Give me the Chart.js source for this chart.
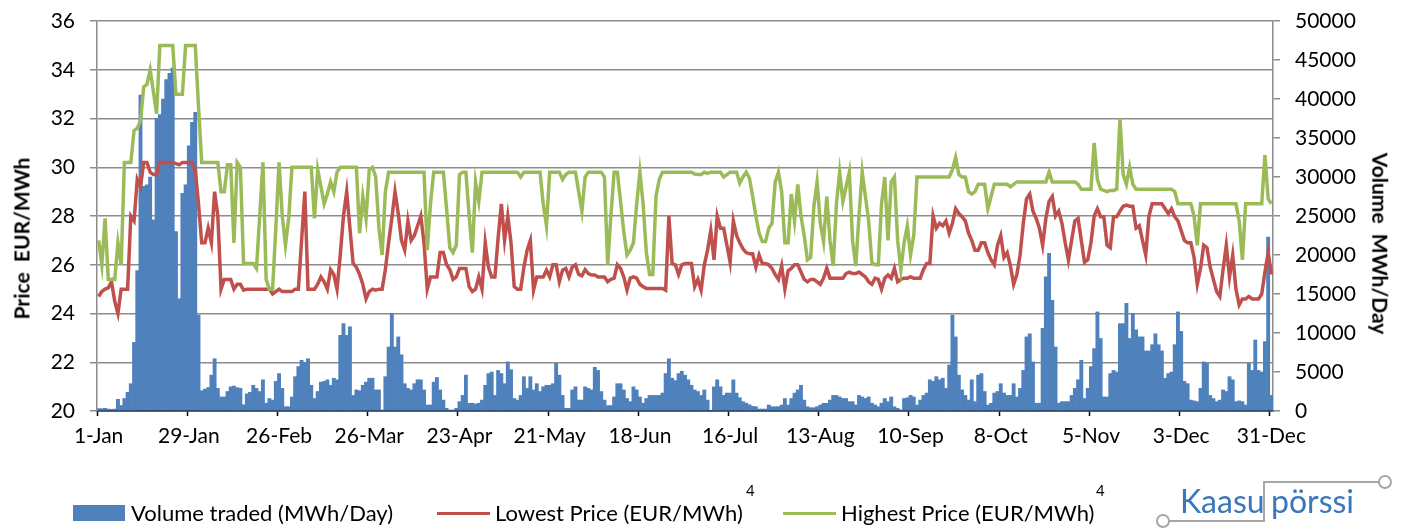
<!DOCTYPE html>
<html>
<head>
<meta charset="utf-8">
<title>Kaasupörssi volume and prices</title>
<script src="https://cdn.jsdelivr.net/npm/chart.js@4.4.1/dist/chart.umd.min.js"></script>
<style>
  html, body { margin: 0; padding: 0; background: #fff; }
  #wrap { position: relative; width: 1402px; height: 528px; overflow: hidden; font-family: Lato, 'Open Sans', sans-serif; color: #000; }
  #chart { position: absolute; left: 0; top: 0; }
  .axis-title { position: absolute; font-weight: bold; font-size: 21px; line-height: 1; white-space: nowrap; }
  .leg { position: absolute; font-size: 22px; line-height: 1; white-space: nowrap; }
  .sup { position: absolute; font-size: 15px; line-height: 1; }
  .swatch { position: absolute; }
  .logo-txt { position: absolute; font-size: 32px; line-height: 1; color: #3a77bb; white-space: nowrap; }
  .logo-line { position: absolute; background: #a6a6a6; }
  .logo-dot { position: absolute; width: 10px; height: 10px; border: 2px solid #a6a6a6; border-radius: 50%; background: #fff; }
</style>
</head>
<body>
<div id="wrap">
  <canvas id="chart" width="1402" height="528"></canvas>

  <div class="axis-title" id="titleLeft">Price&nbsp; EUR/MWh</div>
  <div class="axis-title" id="titleRight">Volume&nbsp; MWh/Day</div>

  <div class="swatch" style="left:73px; top:505px; width:52px; height:16px; background:#4f81bd;"></div>
  <div class="leg" style="left:131px; top:502px;">Volume traded (MWh/Day)</div>

  <div class="swatch" style="left:437px; top:512px; width:53px; height:3px; background:#c0504d;"></div>
  <div class="leg" style="left:495px; top:502px;">Lowest Price (EUR/MWh)</div>
  <div class="sup" style="left:746px; top:483px;">4</div>

  <div class="swatch" style="left:783px; top:512px; width:53px; height:3px; background:#9bbb59;"></div>
  <div class="leg" style="left:841px; top:502px;">Highest Price (EUR/MWh)</div>
  <div class="sup" style="left:1096px; top:483px;">4</div>

  <div class="logo-txt" style="left:1180px; top:485px;">Kaasu</div>
  <div class="logo-txt" style="left:1271px; top:485px;">pörssi</div>
  <div class="logo-line" style="left:1168px; top:520px; width:97px; height:2px;"></div>
  <div class="logo-line" style="left:1263px; top:481px; width:2px; height:41px;"></div>
  <div class="logo-line" style="left:1263px; top:481px; width:116px; height:2px;"></div>
  <div class="logo-dot" style="left:1156px; top:514px;"></div>
  <div class="logo-dot" style="left:1378px; top:475px;"></div>
</div>

<script>
// day by day values
var monthNames = ['Jan', 'Feb', 'Mar', 'Apr', 'May', 'Jun', 'Jul', 'Aug', 'Sep', 'Oct', 'Nov', 'Dec'];
var monthDays = [31, 28, 31, 30, 31, 30, 31, 31, 30, 31, 30, 31];
var tickLabels = ['1-Jan', '29-Jan', '26-Feb', '26-Mar', '23-Apr', '21-May', '18-Jun',
  '16-Jul', '13-Aug', '10-Sep', '8-Oct', '5-Nov', '3-Dec', '31-Dec'];

var volumeTraded = [
  300, 300, 350, 250, 200, 250, 1500, 700, 1600, 2400,
  3500, 8800, 18000, 40500, 28800, 29000, 30000, 24500, 37500, 38000,
  40000, 42500, 43300, 44000, 23000, 14400, 27900, 29000, 34000, 37000,
  38300, 12300, 2600, 2800, 3000, 4600, 6700, 2900, 1800, 1800,
  2500, 3100, 3200, 3000, 2900, 800, 2200, 2400, 3300, 2900,
  2500, 4000, 1000, 1600, 1400, 3800, 4800, 2900, 550, 550,
  1800, 4400, 5700, 6500, 6200, 6700, 3300, 1600, 2500, 3700,
  3800, 4000, 3300, 4200, 4000, 9700, 11200, 9700, 10800, 2000,
  2700, 2600, 3300, 3700, 4200, 4200, 2700, 2700, 130, 4400,
  8200, 12500, 8200, 9500, 7200, 3500, 2900, 2700, 3500, 4000,
  4000, 2700, 770, 770, 3700, 4300, 2700, 1400, 340, 130,
  130, 340, 1200, 2000, 4600, 980, 1000, 900, 1000, 1400,
  3300, 4800, 5000, 2000, 5200, 4800, 3500, 6300, 5300, 1600,
  1400, 2000, 4400, 2900, 4400, 2700, 3500, 2500, 3100, 3300,
  3300, 3500, 6100, 4600, 2000, 350, 350, 2700, 3100, 1400,
  1400, 3100, 2900, 2700, 5600, 5200, 2500, 1400, 700, 700,
  1800, 3500, 3500, 2700, 1600, 1200, 3100, 2700, 1800, 1000,
  1600, 2000, 2000, 2000, 2000, 2300, 4800, 6700, 4200, 3900,
  4800, 5100, 4600, 4000, 3300, 2700, 2500, 2000, 2700, 1400,
  100, 3100, 4000, 3100, 2000, 2300, 2300, 4000, 2300, 1700,
  1200, 1000, 800, 600, 550, 250, 250, 250, 770, 550,
  550, 550, 770, 1600, 770, 1600, 2300, 2700, 3300, 1400,
  550, 420, 420, 550, 770, 980, 980, 1400, 2000, 2000,
  1800, 1600, 1600, 1200, 1200, 770, 2000, 1800, 1600, 1800,
  1000, 770, 550, 1000, 1600, 1200, 1800, 550, 350, 150,
  1600, 1700, 2000, 1800, 770, 1400, 2000, 2300, 4000, 3800,
  4400, 4000, 4200, 2900, 5900, 12300, 9500, 4600, 2700, 2000,
  1400, 4000, 1200, 4600, 4800, 2500, 770, 980, 2300, 2500,
  3500, 2300, 2000, 2000, 3500, 1800, 2900, 5200, 9500, 9900,
  6300, 1000, 1000, 10600, 17200, 20200, 14200, 8200, 1000, 1200,
  1200, 1200, 2000, 2900, 4000, 6500, 1600, 2900, 5700, 8000,
  12700, 9300, 1800, 1800, 4800, 5200, 5000, 11200, 11200, 13800,
  9300, 12500, 10400, 9500, 9500, 7700, 7700, 8500, 9900, 8500,
  7700, 4200, 4800, 5000, 8500, 12700, 10200, 3800, 3500, 1400,
  1300, 1200, 2900, 6300, 6100, 2000, 1600, 1200, 1400, 2700,
  2500, 4400, 4000, 1200, 1300, 1200, 770, 6100, 5200, 9100,
  5200, 5000, 8900, 22300, 2000
];

var lowestPrice = [
  24.7, 24.9, 25.0, 25.05, 25.3, 24.5, 24.0, 25.0, 25.0, 25.0,
  28.0, 27.8, 29.5, 29.2, 30.2, 30.2, 29.8, 29.7, 29.7, 30.2,
  30.2, 30.2, 30.2, 30.2, 30.15, 30.1, 30.2, 30.2, 30.2, 30.2,
  29.9, 28.5, 26.9, 26.9, 27.5, 26.9, 29.0, 28.0, 25.0, 25.4,
  25.4, 25.4, 25.0, 25.2, 25.2, 24.96, 25.0, 25.0, 25.0, 25.0,
  25.0, 25.0, 25.0, 25.0, 24.8, 24.9, 25.0, 24.9, 24.9, 24.9,
  24.9, 25.0, 25.0, 27.0, 29.0, 25.0, 25.0, 25.0, 25.2, 25.5,
  25.3, 25.0, 25.8, 25.6, 25.0, 26.4, 28.0, 29.0, 27.5, 26.05,
  25.9, 25.6, 25.2, 24.6, 24.9, 25.0, 24.96, 25.0, 25.0, 25.8,
  26.9, 27.9, 29.0, 28.1, 27.0, 26.6, 27.8, 27.0, 27.2, 27.6,
  28.0, 26.9, 25.0, 25.5, 25.5, 25.5, 26.5, 26.5, 26.0, 25.8,
  25.4, 25.5, 25.85, 25.85, 25.85, 25.1, 24.9, 25.0, 25.5, 25.0,
  26.9, 25.9, 25.5, 25.5, 27.1, 28.5, 27.0, 28.0, 26.9, 25.1,
  25.0, 25.0, 25.9, 26.6, 27.0, 24.96, 25.5, 25.5, 25.5, 25.78,
  25.5, 26.0, 26.0, 25.3, 25.78, 25.85, 25.5, 25.9, 26.0, 25.6,
  25.55, 25.8, 25.64, 25.58, 25.58, 25.5, 25.5, 25.5, 25.3, 25.4,
  25.45, 26.0, 25.85, 25.5, 24.96, 25.45, 25.5, 25.45, 25.2, 25.1,
  25.03, 25.03, 25.03, 25.03, 25.03, 25.03, 24.96, 28.0, 26.05, 26.0,
  25.6, 26.0, 26.05, 26.05, 26.05, 25.1, 25.4, 24.96, 26.0, 26.6,
  27.4, 26.2, 28.0, 27.5, 27.5, 26.8, 26.1, 27.8, 27.2, 26.9,
  26.65, 26.5, 26.45, 26.45, 25.9, 26.4, 26.05, 26.05, 26.0, 25.85,
  25.6, 25.4, 25.95, 25.0, 25.75, 25.85, 26.0, 26.0, 25.7, 25.4,
  25.3, 25.4, 25.4, 25.3, 25.2, 25.45, 25.85, 25.45, 25.45, 25.45,
  25.45, 25.45, 25.64, 25.7, 25.64, 25.64, 25.7, 25.6, 25.5, 25.3,
  25.2, 25.45, 25.4, 25.0, 25.45, 25.58, 25.45, 25.85, 25.3, 25.4,
  25.45, 25.45, 25.5, 25.45, 25.45, 25.45, 25.8, 26.05, 26.05, 28.0,
  27.5, 27.7, 27.6, 27.8, 27.3, 27.7, 28.3, 28.1, 27.97, 27.8,
  27.3, 27.0, 26.6, 26.6, 26.9, 26.9, 26.5, 26.2, 26.0, 26.8,
  27.2, 26.3, 26.5, 25.95, 25.2, 25.6, 26.4, 27.7, 28.7, 28.9,
  28.2, 27.9, 27.5, 26.8, 27.9, 28.6, 28.8, 28.0, 28.2, 27.7,
  26.9, 26.2, 27.0, 27.8, 27.9, 27.0, 26.1, 26.2, 26.9, 28.0,
  28.3, 27.97, 27.97, 26.8, 26.7, 27.97, 27.97, 28.2, 28.4, 28.45,
  28.4, 28.4, 27.5, 27.6, 27.0, 26.4, 28.0, 28.5, 28.5, 28.5,
  28.5, 28.3, 28.1, 28.3, 27.97, 27.8, 27.4, 27.0, 26.9, 26.9,
  26.3, 25.2, 25.85, 26.8, 26.7, 25.9, 25.4, 24.9, 24.7, 25.8,
  26.8, 25.5, 26.4, 25.0, 24.35, 24.6, 24.6, 24.7, 24.6, 24.6,
  24.6, 24.8, 25.7, 26.5, 25.6
];

var highestPrice = [
  27.0, 26.0, 27.9, 25.4, 25.4, 25.4, 26.9, 26.0, 30.2, 30.2,
  30.2, 31.5, 31.6, 31.9, 33.3, 33.4, 34.0, 33.1, 32.2, 35.0,
  35.0, 35.0, 35.0, 35.0, 33.0, 33.0, 33.0, 35.0, 35.0, 35.0,
  35.0, 32.5, 30.2, 30.2, 30.2, 30.2, 30.2, 30.2, 29.0, 29.0,
  30.1, 30.1, 26.9, 30.2, 30.0, 26.05, 26.05, 26.05, 26.05, 25.85,
  28.0, 30.2, 25.4, 25.0, 25.0, 27.5, 30.2, 28.0, 26.8, 27.9,
  30.0, 30.0, 30.0, 30.0, 30.0, 30.0, 30.0, 27.9, 29.9, 29.2,
  28.5, 28.9, 29.4, 29.0, 29.8, 30.0, 30.0, 30.0, 30.0, 30.0,
  30.0, 27.3, 28.8, 27.9, 29.9, 30.0, 29.6, 27.5, 26.4, 29.0,
  29.8, 29.8, 29.8, 29.8, 29.8, 29.8, 29.8, 29.8, 29.8, 29.8,
  29.8, 29.8, 26.6, 28.5, 29.8, 29.8, 29.8, 29.8, 28.3, 26.7,
  26.5, 26.8, 29.7, 29.8, 29.8, 28.0, 26.5, 29.4, 28.6, 29.8,
  29.8, 29.8, 29.8, 29.8, 29.8, 29.8, 29.8, 29.8, 29.8, 29.8,
  29.8, 29.6, 29.8, 29.8, 29.8, 29.8, 29.8, 29.8, 28.5, 27.6,
  29.8, 29.8, 29.8, 29.8, 29.5, 29.7, 29.8, 29.8, 29.8, 29.0,
  28.2, 29.6, 29.8, 29.8, 29.8, 29.8, 29.8, 29.6, 26.0, 28.0,
  29.8, 29.8, 28.6, 27.35, 26.4, 26.6, 26.9, 28.5, 29.8, 28.5,
  26.5, 25.6, 25.6, 28.8, 29.5, 29.8, 29.8, 29.8, 29.8, 29.8,
  29.8, 29.8, 29.8, 29.8, 29.8, 29.72, 29.7, 29.7, 29.8, 29.75,
  29.8, 29.8, 29.8, 29.8, 29.6, 29.7, 29.8, 29.8, 29.8, 29.35,
  29.6, 29.8, 29.55, 28.8, 28.0, 27.3, 26.95, 26.95, 27.5, 27.7,
  29.4, 29.8, 29.0, 26.9, 26.9, 28.9, 27.8, 29.3, 28.0, 27.2,
  26.2, 26.3, 28.4, 29.4, 27.7, 26.95, 28.8, 27.0, 25.95, 28.5,
  29.8, 28.6, 29.2, 29.8, 27.0, 25.95, 28.0, 29.8, 28.8, 27.8,
  26.1, 26.0, 26.0, 28.5, 29.6, 27.0, 29.4, 29.6, 27.0, 25.8,
  26.9, 27.6, 26.4, 27.2, 29.6, 29.6, 29.6, 29.6, 29.6, 29.6,
  29.6, 29.6, 29.6, 29.6, 29.6, 29.9, 30.4, 29.7, 29.6, 29.6,
  29.0, 28.9, 29.0, 29.3, 29.3, 29.3, 28.3, 28.8, 29.3, 29.3,
  29.3, 29.3, 29.3, 29.2, 29.3, 29.4, 29.4, 29.4, 29.4, 29.4,
  29.4, 29.4, 29.4, 29.4, 29.4, 29.8, 29.4, 29.4, 29.4, 29.4,
  29.4, 29.4, 29.4, 29.4, 29.3, 29.1, 29.1, 29.1, 29.1, 31.0,
  29.5, 29.1, 29.05, 29.0, 29.05, 29.05, 29.1, 32.0, 29.7, 29.3,
  30.0, 29.3, 29.1, 29.1, 29.1, 29.1, 29.1, 29.1, 29.1, 29.1,
  29.1, 29.1, 29.1, 29.1, 29.0, 28.5, 28.5, 28.5, 28.5, 28.5,
  28.0, 26.8, 28.5, 28.5, 28.5, 28.5, 28.5, 28.5, 28.5, 28.5,
  28.5, 28.5, 28.5, 28.5, 27.8, 26.2, 28.5, 28.5, 28.5, 28.5,
  28.5, 28.5, 30.5, 28.7, 28.5
];

var days = [];
monthDays.forEach(function(n, m) {
  for (var d = 1; d <= n; d++) days.push(d + '-' + monthNames[m]);
});

var gridGray = '#8c8c8c';
Chart.defaults.font.family = "Lato, 'Open Sans', sans-serif";
Chart.defaults.font.size = 21;
Chart.defaults.color = '#000';

function isLabelled(i) {
  return tickLabels.indexOf(days[i]) >= 0;
}

// fixed box sizes so the plot area sits where the reference has it
function fixWidth(w) {
  return function(s) {
    s.width = w;
    s.paddingTop = 0;
    s.paddingBottom = 0;
  };
}

new Chart(document.getElementById('chart').getContext('2d'), {
  type: 'bar',
  data: {
    labels: days,
    datasets: [{
      label: 'Highest Price (EUR/MWh)',
      type: 'line',
      data: highestPrice,
      yAxisID: 'y',
      borderColor: '#9bbb59',
      borderWidth: 3.5,
      pointRadius: 0,
      tension: 0,
      order: 1
    }, {
      label: 'Lowest Price (EUR/MWh)',
      type: 'line',
      data: lowestPrice,
      yAxisID: 'y',
      borderColor: '#c0504d',
      borderWidth: 3.5,
      pointRadius: 0,
      tension: 0,
      order: 2
    }, {
      label: 'Volume traded (MWh/Day)',
      data: volumeTraded,
      yAxisID: 'y2',
      backgroundColor: '#4f81bd',
      borderWidth: 0,
      barPercentage: 1,
      categoryPercentage: 1,
      order: 3
    }]
  },
  options: {
    responsive: false,
    animation: false,
    layout: { padding: { top: 21, left: 0, right: 0, bottom: 67 } },
    plugins: { legend: { display: false }, tooltip: { enabled: false } },
    scales: {
      x: {
        offset: true,
        grid: {
          offset: true,
          drawOnChartArea: false,
          tickLength: 5,
          tickWidth: 1.5,
          tickColor: function(c) { return isLabelled(c.index) ? '#000' : 'rgba(0,0,0,0)'; }
        },
        border: { color: '#000', width: 1.5 },
        ticks: {
          autoSkip: false,
          maxRotation: 0,
          minRotation: 0,
          padding: 8,
          callback: function(v, i) { return isLabelled(i) ? days[i] : ''; }
        },
        afterFit: function(s) { s.height = 50; s.paddingLeft = 0; s.paddingRight = 0; }
      },
      y: {
        position: 'left',
        min: 20,
        max: 36,
        ticks: { stepSize: 2, padding: 15 },
        grid: { color: gridGray, lineWidth: 1.5, tickLength: 7 },
        border: { color: gridGray, width: 1.5 },
        afterFit: fixWidth(97)
      },
      y2: {
        position: 'right',
        min: 0,
        max: 50000,
        ticks: {
          stepSize: 5000,
          padding: 15,
          callback: function(v) { return String(v); }
        },
        grid: { drawOnChartArea: false, color: gridGray, lineWidth: 1.5, tickLength: 7 },
        border: { color: gridGray, width: 1.5 },
        afterFit: fixWidth(129)
      }
    }
  }
});

// axis titles placed as rotated text, centred where the reference has them
function placeTitle(id, cx, cy, deg) {
  var el = document.getElementById(id);
  var w = el.offsetWidth, h = el.offsetHeight;
  el.style.left = (cx - w / 2) + 'px';
  el.style.top = (cy - h / 2) + 'px';
  el.style.transform = 'rotate(' + deg + 'deg)';
}
placeTitle('titleLeft', 21, 238, -90);
placeTitle('titleRight', 1381, 243, 90);
</script>
</body>
</html>
